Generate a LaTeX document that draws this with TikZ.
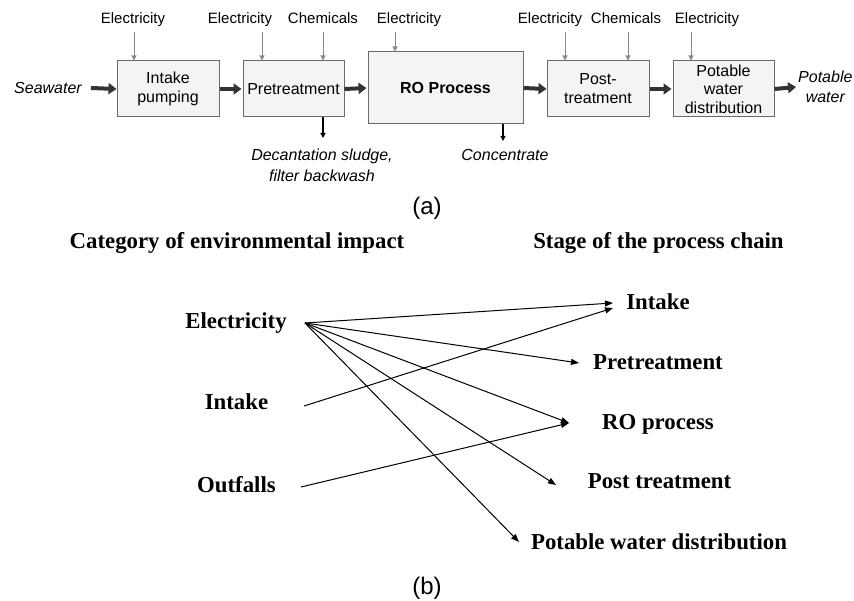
\documentclass[tikz,border=0pt]{standalone}
\usepackage{fontspec}
\setmainfont{Liberation Sans}
\newfontfamily\serifbold{Liberation Serif}
\usetikzlibrary{arrows.meta}
\definecolor{boxfill}{HTML}{F4F4F4}
\definecolor{boxline}{HTML}{6A6A6A}
\definecolor{inline}{HTML}{8A8A8A}
\definecolor{flowline}{HTML}{333333}
\tikzset{
  procbox/.style={draw=boxline, fill=boxfill, line width=1pt, minimum width=102pt, minimum height=56pt, inner sep=1pt, align=center, font=\fontsize{16}{19}\selectfont},
  inlabel/.style={font=\fontsize{15}{17}\selectfont, inner sep=0pt, text height=11pt, text depth=3.5pt},
  italabel/.style={font=\fontsize{16}{20}\selectfont\itshape, inner sep=0pt, align=center},
  inarrow/.style={draw=inline, line width=1pt, -{Triangle[length=5pt,width=5pt]}},
  outarrow/.style={draw=black, line width=1.2pt, -{Triangle[length=5pt,width=5pt]}},
  flowarrow/.style={draw=flowline, line width=4pt, -{Triangle[length=8pt,width=11pt]}},
  catlabel/.style={font=\serifbold\bfseries\fontsize{22.8}{26}\selectfont, inner sep=0pt, text height=15.5pt, text depth=5pt},
  linkarrow/.style={draw=black, line width=1pt, -{Triangle[length=8pt,width=6pt]}},
  sublabel/.style={font=\fontsize{24}{28}\selectfont, inner sep=0pt}
}
\begin{document}
\begin{tikzpicture}[x=1pt,y=-1pt]
\useasboundingbox (0,0) rectangle (854,601);
% ---------- (a) ----------
\node[italabel] (sea) at (48,88) {Seawater};
\node[procbox] (intake) at (168,89) {Intake\\pumping};
\node[procbox, minimum width=101pt] (pre) at (293.5,89) {Pretreatment};
\node[procbox, minimum width=155pt, minimum height=72pt, font=\fontsize{16}{19}\selectfont\bfseries] (ro) at (445.5,88) {RO Process};
\node[procbox] (post) at (598,89) {Post-\\treatment};
\node[procbox, minimum width=101pt, font=\fontsize{16}{18.5}\selectfont] (pot) at (723.5,89) {Potable\\water\\distribution};
\node[italabel, anchor=west, font=\fontsize{16}{20}\selectfont\itshape] (potw) at (798,87) {Potable\\water};

\draw[flowarrow] ([xshift=9pt]sea.east) -- (intake.west);
\draw[flowarrow] (intake.east) -- ([xshift=-1pt]pre.west);
\draw[flowarrow] (pre.east) -- ([xshift=-1pt]ro.west);
\draw[flowarrow] (ro.east) -- (post.west);
\draw[flowarrow] (post.east) -- ([xshift=-1pt]pot.west);
\draw[flowarrow] (pot.east) -- ([xshift=-2pt]potw.west);

% inputs
\node[inlabel] (l1) at (133,20) {Electricity};
\node[inlabel] (l2) at (240,20) {Electricity};
\node[inlabel] (l3) at (323,20) {Chemicals};
\node[inlabel] (l4) at (409,20) {Electricity};
\node[inlabel] (l5) at (550,20) {Electricity};
\node[inlabel] (l6) at (626,20) {Chemicals};
\node[inlabel] (l7) at (707,20) {Electricity};
\coordinate (i1) at (134,32);
\coordinate (i2) at (262,32);
\coordinate (i3) at (323,32);
\coordinate (i4) at (395,32);
\coordinate (i5) at (565,32);
\coordinate (i6) at (628,32);
\coordinate (i7) at (691,32);
\draw[inarrow] (i1) -- (i1 |- intake.north);
\draw[inarrow] (i2) -- (i2 |- pre.north);
\draw[inarrow] (i3) -- (i3 |- pre.north);
\draw[inarrow] (i4) -- (i4 |- ro.north);
\draw[inarrow] (i5) -- (i5 |- post.north);
\draw[inarrow] (i6) -- (i6 |- post.north);
\draw[inarrow] (i7) -- (i7 |- pot.north);

% outputs
\coordinate (o1) at (323,138);
\coordinate (o2) at (503,141);
\draw[outarrow] (o1 |- pre.south) -- (o1);
\draw[outarrow] (o2 |- ro.south) -- (o2);
\node[italabel, font=\fontsize{16}{21}\selectfont\itshape] (sludge) at (322,165.5) {Decantation sludge,\\filter backwash};
\node[italabel] (conc) at (505,155) {Concentrate};

\node[sublabel] (la) at (427,208) {(a)};

% ---------- (b) ----------
\node[catlabel] (hl) at (237,243) {Category of environmental impact};
\node[catlabel] (hr) at (658.5,243) {Stage of the process chain};

\node[catlabel] (cE) at (236,323) {Electricity};
\node[catlabel] (cI) at (236.5,404) {Intake};
\node[catlabel] (cO) at (236.5,487) {Outfalls};

\node[catlabel] (sI) at (658,304) {Intake};
\node[catlabel] (sP) at (658,364) {Pretreatment};
\node[catlabel] (sR) at (658,424) {RO process};
\node[catlabel] (sT) at (659.5,483) {Post treatment};
\node[catlabel] (sD) at (659,544) {Potable water distribution};

\coordinate (pE) at (305,323);
\coordinate (pI) at (304,406);
\coordinate (pO) at (301,487);
\coordinate (tI1) at (613,303);
\coordinate (tI2) at (613,308);
\coordinate (tP) at (579,363);
\coordinate (tR) at (569,423);
\coordinate (tT) at (556,485);
\coordinate (tD) at (519,542);

\draw[linkarrow] (pE) -- (tI1);
\draw[linkarrow] (pE) -- (tP);
\draw[linkarrow] (pE) -- (tR);
\draw[linkarrow] (pE) -- (tT);
\draw[linkarrow] (pE) -- (tD);
\draw[linkarrow] (pI) -- (tI2);
\draw[linkarrow] (pO) -- (tR);

\node[sublabel] (lb) at (427,588) {(b)};
\end{tikzpicture}
\end{document}
